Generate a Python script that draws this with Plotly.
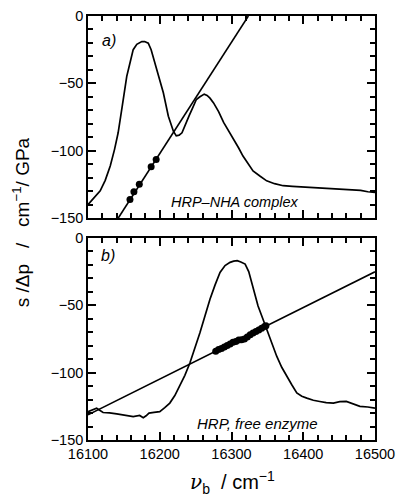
import plotly.graph_objects as go
from plotly.subplots import make_subplots

# ---- data ----
# panel a) HRP-NHA complex
curve_a_x = [16100, 16105, 16110, 16117, 16124, 16131, 16137, 16142, 16148, 16154, 16158,
             16163, 16168, 16172, 16175, 16179, 16184, 16188, 16193, 16199, 16205, 16212,
             16219, 16223, 16227, 16231, 16236, 16241, 16246, 16251, 16256, 16262, 16266,
             16270, 16275, 16282, 16289, 16296, 16303, 16310, 16316, 16323, 16330, 16340,
             16349, 16360, 16372, 16385, 16400, 16419, 16435, 16450, 16465, 16480, 16490, 16500]
curve_a_y = [-140, -137, -134, -129.8, -122, -111.3, -99, -86.7, -66, -44.8, -36,
             -25, -21, -19.5, -19, -19, -20.2, -25, -35, -46, -57, -74.4,
             -85.5, -89, -88.5, -86.7, -81, -74, -68, -62, -60, -58, -59,
             -61, -64.5, -71, -79, -85, -91.6, -98, -104, -110, -115, -119,
             -122.4, -124.5, -126, -126.5, -127, -127.5, -128, -128.3, -129, -129.5, -130.5, -131]
fit_a_x = [16142.2, 16323.5]
fit_a_y = [-150, 0]
dots_a_x = [16158.5, 16164, 16171.5, 16188, 16195]
dots_a_y = [-136.3, -130.5, -125, -112, -106.5]

# panel b) HRP, free enzyme
curve_b_x = [16100, 16106, 16112, 16121, 16130, 16140, 16150, 16163, 16172, 16177, 16181,
             16185, 16192, 16200, 16207, 16214, 16221, 16228, 16235, 16242, 16249, 16256,
             16263, 16270, 16277, 16284, 16291, 16298, 16303, 16308, 16313, 16319, 16324,
             16328, 16333, 16337, 16343, 16349, 16356, 16363, 16370, 16377, 16384, 16391,
             16398, 16405, 16414, 16423, 16432, 16442, 16451, 16460, 16470, 16479, 16490, 16500]
curve_b_y = [-128.9, -127.5, -126.4, -129.6, -129.8, -130.6, -131.5, -132.6, -131.8, -133.5, -132,
             -130, -129.5, -128.9, -126, -122.6, -117, -110, -102, -92.8, -82, -70.4,
             -58, -45.5, -35, -25.6, -20.5, -18.1, -17.2, -16.9, -17.8, -19.4, -25,
             -33, -42, -50.5, -59, -67.9, -78, -87.8, -96, -102.8, -109, -115.1,
             -117.5, -118.9, -120.5, -121.4, -122.3, -122.6, -121.5, -121.4, -123.5, -125, -125.5, -126.4]
fit_b_x = [16100, 16500]
fit_b_y = [-131.3, -25.1]
dots_b_x = [16278, 16282, 16286, 16290, 16294, 16298, 16302, 16306, 16310, 16314, 16318,
            16322, 16326, 16330, 16334, 16338, 16342, 16346, 16348]
dots_b_y = [-84.2, -82.8, -82.0, -81.0, -79.8, -78.8, -77.5, -76.8, -75.8, -75.5, -75.0,
            -73.5, -71.8, -70.5, -69.5, -68.3, -67.0, -65.8, -65.2]

x_range = [16100, 16500]
y_range = [-150, 0]
x_ticks = [16100, 16200, 16300, 16400, 16500]
y_ticks = [0, -50, -100, -150]

FONT = "Liberation Sans, Arial, sans-serif"
BLACK = "#000000"

fig = make_subplots(rows=2, cols=1, vertical_spacing=0.047)

for row, (cx, cy, fx, fy, dx, dy) in enumerate([
        (curve_a_x, curve_a_y, fit_a_x, fit_a_y, dots_a_x, dots_a_y),
        (curve_b_x, curve_b_y, fit_b_x, fit_b_y, dots_b_x, dots_b_y)], start=1):
    fig.add_trace(go.Scatter(x=cx, y=cy, mode="lines",
                             line=dict(color=BLACK, width=1.7), showlegend=False), row=row, col=1)
    fig.add_trace(go.Scatter(x=fx, y=fy, mode="lines",
                             line=dict(color=BLACK, width=1.6), showlegend=False), row=row, col=1)
    fig.add_trace(go.Scatter(x=dx, y=dy, mode="markers",
                             marker=dict(color=BLACK, size=7), showlegend=False), row=row, col=1)

axis_common = dict(showline=True, linecolor=BLACK, linewidth=1.6, mirror="allticks",
                   ticks="inside", ticklen=8, tickwidth=1.6, tickcolor=BLACK,
                   showgrid=False, zeroline=False, automargin=False,
                   tickformat="d",
                   tickfont=dict(family=FONT, size=14.5, color=BLACK))

for row in (1, 2):
    fig.update_xaxes(range=x_range, tickmode="array", tickvals=x_ticks,
                     showticklabels=(row == 2),
                     minor=dict(ticks="inside", tickmode="linear", dtick=20, ticklen=5,
                                tickcolor=BLACK, tickwidth=1.5, showgrid=False),
                     row=row, col=1, **axis_common)
    fig.update_yaxes(range=y_range, tickmode="array", tickvals=y_ticks,
                     minor=dict(ticks="inside", tickmode="linear", dtick=10, ticklen=5,
                                tickcolor=BLACK, tickwidth=1.5, showgrid=False),
                     row=row, col=1, **axis_common)


def note(text, x, y, size, family=FONT, angle=0):
    return dict(text=text, x=x, y=y, xref="paper", yref="paper", xanchor="center",
                yanchor="middle", showarrow=False, textangle=angle,
                font=dict(family=family, size=size, color=BLACK))


annotations = [
    note("<i>a)</i>", 0.073, 0.943, 16),
    note("<i>b)</i>", 0.070, 0.434, 16),
    note("<i>HRP\u2013NHA complex</i>", 0.512, 0.561, 14.5),
    note("<i>HRP, free enzyme</i>", 0.592, 0.040, 15),
    note("s /\u0394p\u00a0\u00a0\u00a0/\u00a0\u00a0\u00a0cm<sup>\u22121</sup>/ GPa", -0.233, 0.514, 19, angle=-90),
    note("<span style=\"font-family:'DejaVu Serif'\"><i>\u03bd</i></span><sub>b</sub>\u00a0\u00a0/\u00a0cm<sup>\u22121</sup>",
         0.502, -0.101, 20),
]

fig.update_layout(width=398, height=499,
                  margin=dict(l=88, r=23, t=16, b=59),
                  plot_bgcolor="white", paper_bgcolor="white",
                  annotations=annotations, showlegend=False)

# remove the page's default body margin so the 398x499 figure fills the window exactly
fig.write_html("out.html", config={"displayModeBar": False},
               post_script="document.body.style.margin='0';document.body.style.overflow='hidden';")
